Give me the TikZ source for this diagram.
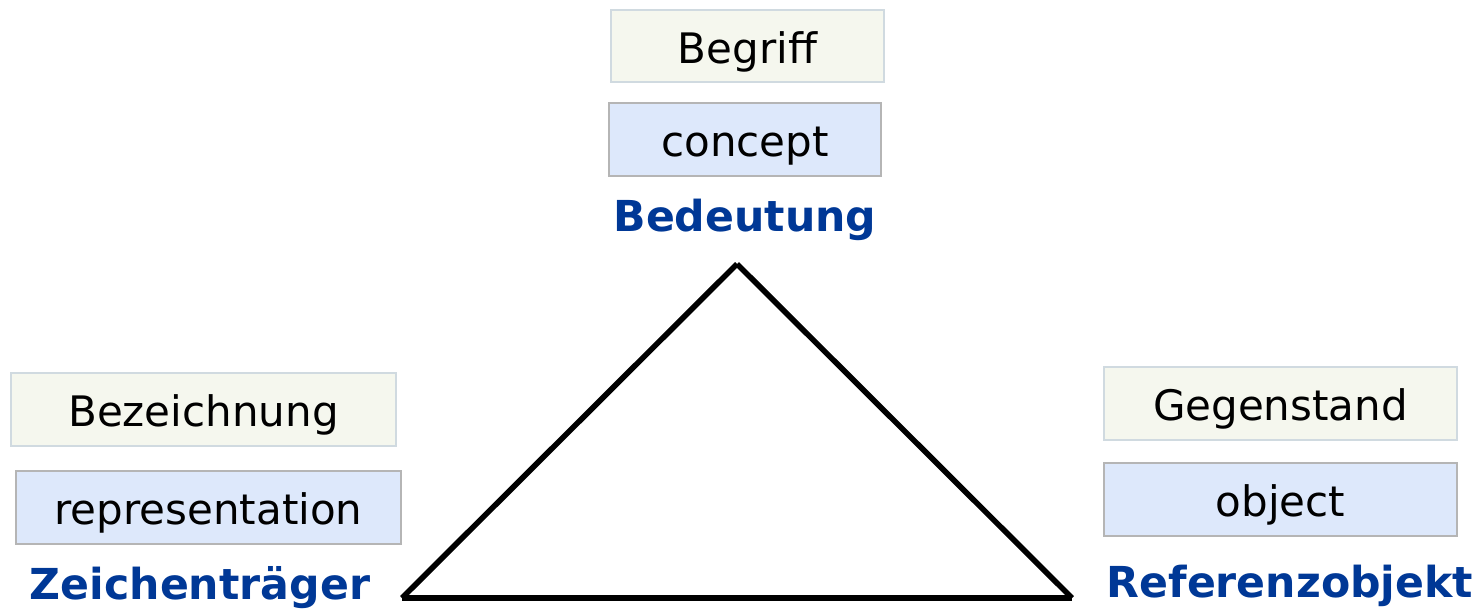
\documentclass[tikz,border=0pt]{standalone}
\usepackage{fontspec}
\setmainfont{DejaVu Sans}
\definecolor{boxcream}{RGB}{245,247,238}
\definecolor{creamline}{RGB}{208,218,224}
\definecolor{boxblue}{RGB}{221,232,251}
\definecolor{blueline}{RGB}{181,181,181}
\definecolor{labelblue}{RGB}{0,56,150}
\begin{document}
\begin{tikzpicture}[x=0.75pt,y=-0.75pt,
  germanbox/.style={draw=creamline,fill=boxcream,line width=1.5pt,inner sep=0pt,
    text height=25.5pt,text depth=0pt,
    font=\fontsize{31.5}{36}\selectfont,text=black},
  englishbox/.style={draw=blueline,fill=boxblue,line width=1.5pt,inner sep=0pt,
    text height=25.5pt,text depth=0pt,
    font=\fontsize{31.5}{36}\selectfont,text=black},
  cornerlabel/.style={font=\fontsize{32}{38}\selectfont\bfseries,text=labelblue,inner sep=0pt},
  edge/.style={line width=4.2pt}]
\useasboundingbox (0,0) rectangle (1479,611);
% top
\node[germanbox,minimum width=273*0.75pt,minimum height=72*0.75pt] (begriff) at (747.5,46) {Begriff};
\node[englishbox,minimum width=272*0.75pt,minimum height=73*0.75pt] (concept) at (745,139.5) {concept};
\node[cornerlabel] (bedeutung) at (745,220) {Bedeutung};
% left
\node[germanbox,minimum width=385*0.75pt,minimum height=73*0.75pt] (bez) at (203.5,409.5) {Bezeichnung};
\node[englishbox,minimum width=385*0.75pt,minimum height=73*0.75pt] (rep) at (208.5,507.5) {representation};
\node[cornerlabel] (zeichen) at (200,588) {Zeichenträger};
% right
\node[germanbox,minimum width=353*0.75pt,minimum height=73*0.75pt] (gegen) at (1280.5,403.5) {Gegenstand};
\node[englishbox,minimum width=353*0.75pt,minimum height=73*0.75pt] (obj) at (1280.5,499.5) {object};
\node[cornerlabel] (referenz) at (1290,586) {Referenzobjekt};
% triangle
\coordinate (apex) at (737,264);
\coordinate (left) at (402,598);
\coordinate (right) at (1072,598);
\draw[edge] (apex) -- (left);
\draw[edge] (apex) -- (right);
\draw[edge] (left) -- (right);
\end{tikzpicture}
\end{document}
